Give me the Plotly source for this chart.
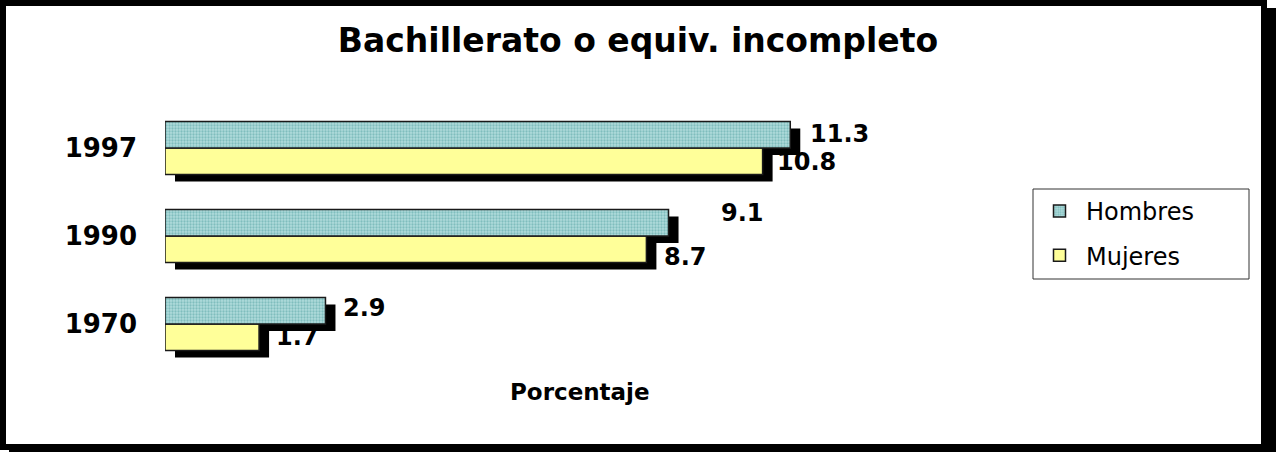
import plotly.graph_objects as go

# ---------------- data ----------------
years = ["1970", "1990", "1997"]
hombres = [2.9, 9.1, 11.3]
mujeres = [1.7, 8.7, 10.8]
series_names = ["Hombres", "Mujeres"]
title_text = "Bachillerato o equiv. incompleto"
axis_title = "Porcentaje"

# ---------------- layout constants ----------------
W, H = 1276, 452
ML, MR, MT, MB = 165, 281, 82, 62
XMAX = 15.0
YR = [-0.75, 2.75]
BW = 0.30                      # bar thickness (data units)
PLOT_W = W - ML - MR
PLOT_H = H - MT - MB
SDX = 10 * XMAX / PLOT_W       # shadow offset (10 px)
SDY = 7 * (YR[1] - YR[0]) / PLOT_H

def px2x(px):
    return (px - ML) / PLOT_W

def py2y(py):
    return (H - MB - py) / PLOT_H

FONT = "DejaVu Sans"
ypos = list(range(len(years)))

fig = go.Figure()

# shadows
for vals, off in ((hombres, 0.0), (mujeres, -BW)):
    fig.add_trace(go.Bar(
        y=ypos, x=vals, base=[SDX] * len(vals), orientation="h",
        offset=off - SDY, width=BW,
        marker=dict(color="black", line=dict(width=0)),
        showlegend=False, hoverinfo="skip"))

# Mujeres (lower bar of each pair)
fig.add_trace(go.Bar(
    y=ypos, x=mujeres, orientation="h", offset=-BW, width=BW,
    name=series_names[1], legendrank=2, legendgroup="m",
    marker=dict(color="#ffff99", line=dict(color="#1a1a1a", width=1.5)),
))
# Hombres (upper bar of each pair)
fig.add_trace(go.Bar(
    y=ypos, x=hombres, orientation="h", offset=0.0, width=BW,
    name=series_names[0], legendrank=1, legendgroup="h",
    marker=dict(color="#99cccc", line=dict(color="#1a1a1a", width=1.5),
                pattern=dict(shape=".", fgcolor="#4f9e9e", bgcolor="#b0dcdc",
                             size=3, solidity=0.45)),
))

# value labels
lab_font = dict(family=FONT, size=24, color="black", weight="bold")
h_dx = [16, 50, 18]
h_dy = [3, 10, 1]
m_dx = [15, 16, 12]
m_dy = [0, -8, -1]
ann = []
for i, v in enumerate(hombres):
    ann.append(dict(x=v, y=ypos[i] + BW / 2, text=f"{v:.1f}", showarrow=False,
                    xanchor="left", yanchor="middle", xshift=h_dx[i], yshift=h_dy[i],
                    font=lab_font))
for i, v in enumerate(mujeres):
    ann.append(dict(x=v, y=ypos[i] - BW / 2, text=f"{v:.1f}", showarrow=False,
                    xanchor="left", yanchor="middle", xshift=m_dx[i], yshift=m_dy[i],
                    font=lab_font))
ann.append(dict(x=0.5, y=py2y(392), xref="paper", yref="paper", text=axis_title,
                showarrow=False, xanchor="center", yanchor="middle",
                font=dict(family=FONT, size=23, color="black", weight="bold")))

shapes = [
    # outer frame with drop shadow
    dict(type="rect", xref="paper", yref="paper", layer="below",
         x0=px2x(9), x1=px2x(1276), y0=py2y(452), y1=py2y(8),
         fillcolor="black", line=dict(width=0)),
    dict(type="rect", xref="paper", yref="paper", layer="below",
         x0=px2x(3), x1=px2x(1264), y0=py2y(447), y1=py2y(3),
         fillcolor="white", line=dict(color="black", width=6)),
    # legend box
    dict(type="rect", xref="paper", yref="paper", layer="above",
         x0=px2x(1033), x1=px2x(1249), y0=py2y(279), y1=py2y(189),
         fillcolor="rgba(0,0,0,0)", line=dict(color="#333333", width=1)),
]

fig.update_layout(
    width=W, height=H,
    margin=dict(l=ML, r=MR, t=MT, b=MB, autoexpand=False),
    paper_bgcolor="white", plot_bgcolor="rgba(0,0,0,0)",
    barmode="overlay",
    title=dict(text=title_text, x=0.5, xref="container", xanchor="center",
               y=1 - 40 / H, yref="container", yanchor="middle",
               font=dict(family=FONT, size=33, color="black", weight="bold")),
    xaxis=dict(range=[0, XMAX], showticklabels=False, showgrid=False,
               zeroline=False, showline=False, fixedrange=True),
    yaxis=dict(range=YR, tickvals=ypos, ticktext=years, showgrid=False,
               zeroline=False, showline=False, ticks="", ticklabelstandoff=27,
               tickfont=dict(family=FONT, size=26, color="black", weight="bold")),
    legend=dict(x=px2x(1033), y=py2y(189), xanchor="left", yanchor="top",
                bgcolor="rgba(0,0,0,0)", borderwidth=0,
                font=dict(family=FONT, size=24, color="black"),
                tracegroupgap=10, itemwidth=43),
    annotations=ann,
    shapes=shapes,
    showlegend=True,
)

# remove the browser's default 8px page margin so the figure sits at (0, 0)
fig.write_html("out.html", config={"displayModeBar": False},
               post_script="document.body.style.margin='0';")
